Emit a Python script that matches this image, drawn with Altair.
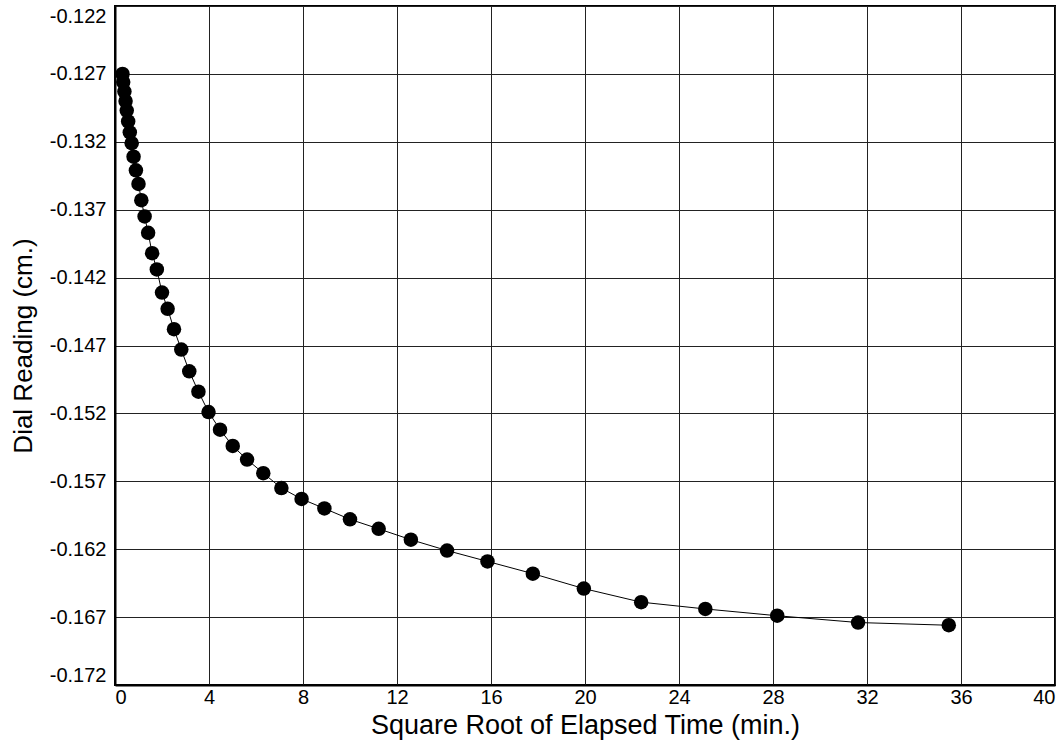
import altair as alt
import pandas as pd

sqrt_time = [0.32, 0.35, 0.40, 0.45, 0.50, 0.56, 0.63, 0.71, 0.79, 0.89, 1.00,
             1.12, 1.26, 1.41, 1.58, 1.78, 2.00, 2.24, 2.51, 2.82, 3.16, 3.55,
             3.98, 4.47, 5.01, 5.62, 6.31, 7.08, 7.94, 8.91, 10.00, 11.22, 12.59,
             14.13, 15.85, 17.78, 19.95, 22.39, 25.12, 28.18, 31.62, 35.48]
dial = [-0.1270, -0.1276, -0.1283, -0.1290, -0.1297, -0.1305, -0.1313, -0.1321,
        -0.1331, -0.1341, -0.1351, -0.1363, -0.1375, -0.1387, -0.1402, -0.1414,
        -0.1431, -0.1443, -0.1458, -0.1473, -0.1489, -0.1504, -0.1519, -0.1532,
        -0.1544, -0.1554, -0.1564, -0.1575, -0.1583, -0.1590, -0.1598, -0.1605,
        -0.1613, -0.1621, -0.1629, -0.1638, -0.1649, -0.1659, -0.1664, -0.1669,
        -0.1674, -0.1676]
x_ticks = [0, 4, 8, 12, 16, 20, 24, 28, 32, 36, 40]
y_ticks = [-0.172, -0.167, -0.162, -0.157, -0.152, -0.147, -0.142, -0.137,
           -0.132, -0.127, -0.122]

df = pd.DataFrame({"x": sqrt_time, "y": dial})

FONT = "Liberation Sans"

x_enc = alt.X("x:Q", scale=alt.Scale(domain=[0, 40], nice=False, zero=False),
              axis=alt.Axis(values=x_ticks, title="Square Root of Elapsed Time (min.)",
                            labelFlush=True, labelFontSize=20, titleFontSize=27,
                            labelPadding=2, titlePadding=5, ticks=False,
                            labelColor="black", titleColor="black",
                            titleFontWeight="normal", labelFont=FONT, titleFont=FONT,
                            domainColor="black", domainWidth=2,
                            gridColor="#222222", gridWidth=1, gridOpacity=1))
y_enc = alt.Y("y:Q", scale=alt.Scale(domain=[-0.172, -0.122], nice=False, zero=False),
              axis=alt.Axis(values=y_ticks, title="Dial Reading (cm.)",
                            labelExpr="'-' + format(abs(datum.value), '.3f')",
                            labelFlush=True, labelFontSize=20, titleFontSize=26,
                            labelPadding=9, titlePadding=13, ticks=False,
                            labelColor="black", titleColor="black",
                            titleFontWeight="normal", labelFont=FONT, titleFont=FONT,
                            domainColor="black", domainWidth=2,
                            gridColor="#222222", gridWidth=1, gridOpacity=1))

line = alt.Chart(df).mark_line(color="black", strokeWidth=1).encode(x=x_enc, y=y_enc)
pts = alt.Chart(df).mark_circle(color="black", size=210, opacity=1).encode(x=x_enc, y=y_enc)

chart = alt.layer(line, pts).properties(
    width=940, height=679,
    autosize=alt.AutoSizeParams(type="none"),
    padding={"left": 115, "top": 6, "right": 2, "bottom": 62},
    background="white",
).configure_view(stroke="black", strokeWidth=2)

chart.save("out.html", embed_options={"renderer": "svg", "actions": False})
